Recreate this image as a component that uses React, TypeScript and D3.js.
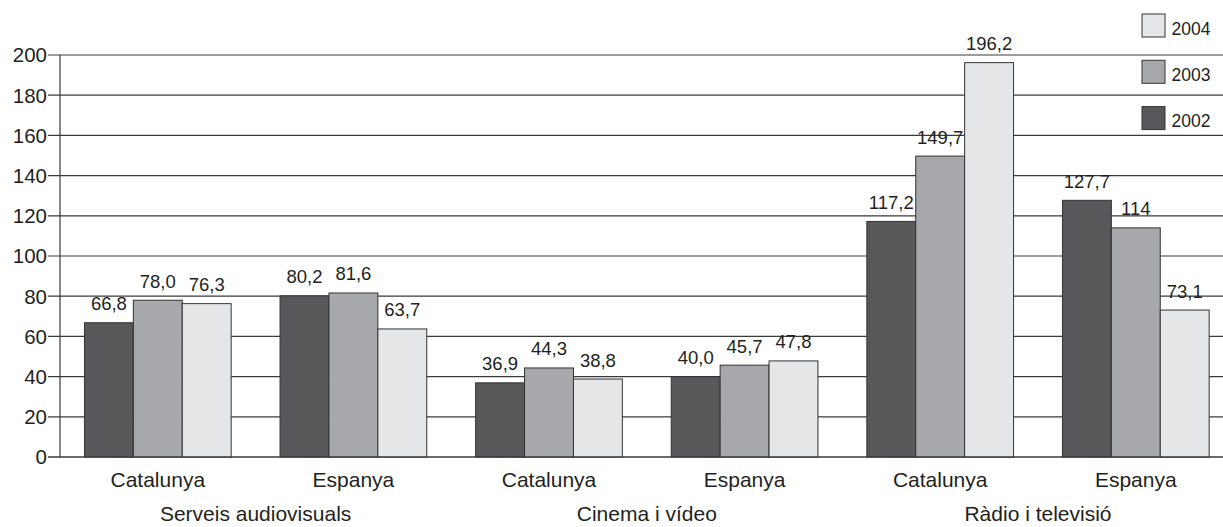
import React from "react";
import * as d3 from "d3";

const regions = ["Catalunya", "Espanya", "Catalunya", "Espanya", "Catalunya", "Espanya"];
const sectors = ["Serveis audiovisuals", "Cinema i vídeo", "Ràdio i televisió"];
const years = ["2002", "2003", "2004"];

const values2002 = [66.8, 80.2, 36.9, 40.0, 117.2, 127.7];
const values2003 = [78.0, 81.6, 44.3, 45.7, 149.7, 114];
const values2004 = [76.3, 63.7, 38.8, 47.8, 196.2, 73.1];

const labels2002 = ["66,8", "80,2", "36,9", "40,0", "117,2", "127,7"];
const labels2003 = ["78,0", "81,6", "44,3", "45,7", "149,7", "114"];
const labels2004 = ["76,3", "63,7", "38,8", "47,8", "196,2", "73,1"];

const yTicks = [0, 20, 40, 60, 80, 100, 120, 140, 160, 180, 200];

const colors: Record<string, string> = {
  "2002": "#58585a",
  "2003": "#a7a8ab",
  "2004": "#e5e6e8",
};

const W = 1223;
const H = 527;
const FONT = "'Liberation Sans', Arial, Helvetica, sans-serif";
const INK = "#231f20";

export default function App() {
  const series = [
    { year: "2002", values: values2002, labels: labels2002 },
    { year: "2003", values: values2003, labels: labels2003 },
    { year: "2004", values: values2004, labels: labels2004 },
  ];

  const groupIds = regions.map((_, i) => String(i));
  const x0 = d3.scaleBand().domain(groupIds).range([60, 1233.6]).padding(0);
  const bw = x0.bandwidth();
  const x1 = d3.scaleBand().domain(years).range([bw / 8, (bw * 7) / 8]).padding(0);
  const y = d3.scaleLinear().domain([0, 200]).range([457, 55]);

  // legend drawn top-down: 2004, 2003, 2002
  const legendYears = [...years].reverse();

  return (
    <svg
      width={W}
      height={H}
      style={{ position: "absolute", left: 0, top: 0, background: "#fff" }}
      fontFamily={FONT}
    >
      {/* gridlines + y ticks */}
      {yTicks.map((t) => (
        <g key={t}>
          <line x1={48} x2={W} y1={y(t)} y2={y(t)} stroke="#3a3a3a" strokeWidth={1.2} />
          <text x={47} y={y(t)} dy="0.36em" textAnchor="end" fontSize={20.5} fill={INK}>
            {t}
          </text>
        </g>
      ))}
      <line x1={60} x2={60} y1={y(200)} y2={y(0)} stroke="#3a3a3a" strokeWidth={1.2} />

      {/* bars */}
      {series.map((s) =>
        s.values.map((v, i) => {
          const bx = (x0(String(i)) ?? 0) + (x1(s.year) ?? 0);
          return (
            <g key={s.year + i}>
              <rect
                x={bx}
                y={y(v)}
                width={x1.bandwidth()}
                height={y(0) - y(v)}
                fill={colors[s.year]}
                stroke="#333"
                strokeWidth={1}
              />
              <text
                x={bx + x1.bandwidth() / 2}
                y={y(v) - 12.5}
                textAnchor="middle"
                fontSize={18.5}
                fill={INK}
              >
                {s.labels[i]}
              </text>
            </g>
          );
        })
      )}
      <line x1={48} x2={W} y1={y(0)} y2={y(0)} stroke="#3a3a3a" strokeWidth={1.2} />

      {/* region labels */}
      {regions.map((r, i) => (
        <text
          key={i}
          x={(x0(String(i)) ?? 0) + bw / 2}
          y={487}
          textAnchor="middle"
          fontSize={21}
          fill={INK}
        >
          {r}
        </text>
      ))}

      {/* sector labels */}
      {sectors.map((s, k) => (
        <text
          key={s}
          x={(x0(String(k * 2)) ?? 0) + bw}
          y={521}
          textAnchor="middle"
          fontSize={21}
          fill={INK}
        >
          {s}
        </text>
      ))}

      {/* legend */}
      {legendYears.map((yr, i) => (
        <g key={yr} transform={`translate(1142, ${14 + i * 46.3})`}>
          <rect width={23} height={23} fill={colors[yr]} stroke="#333" strokeWidth={1} />
          <text x={29.5} y={20.5} fontSize={17.5} fill={INK}>
            {yr}
          </text>
        </g>
      ))}
    </svg>
  );
}
